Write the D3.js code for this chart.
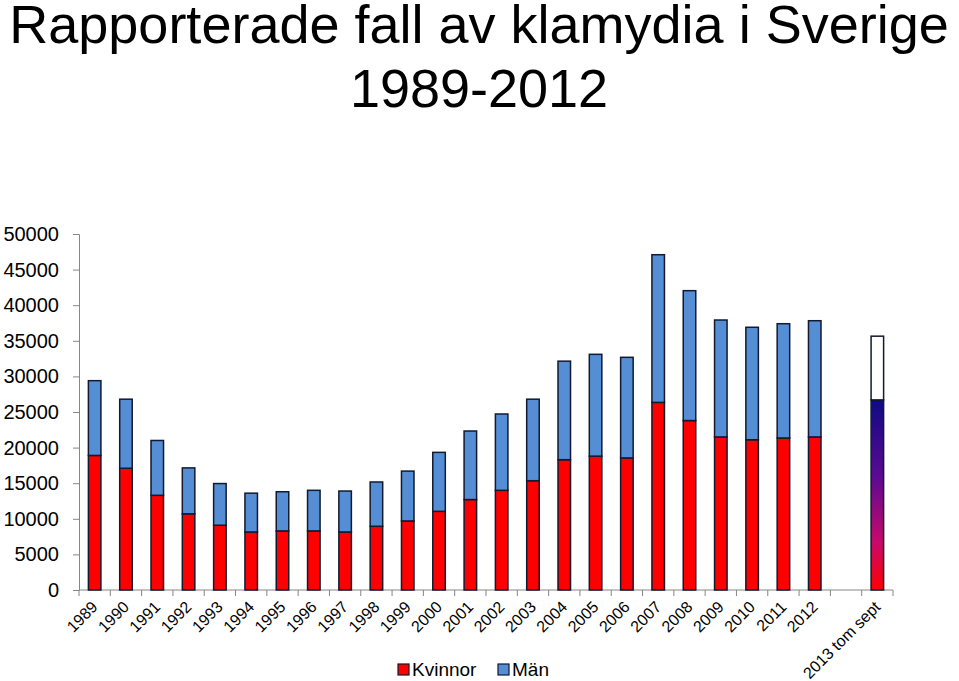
<!DOCTYPE html>
<html>
<head>
<meta charset="utf-8">
<title>Rapporterade fall av klamydia i Sverige</title>
<script src="https://cdn.jsdelivr.net/npm/d3@7"></script>
<style>
body { margin: 0; background: white; }
svg text { font-family: Arial, "Liberation Sans", sans-serif; fill: black; }
.bar { stroke: #111a2e; stroke-width: 1.5px; }
</style>
</head>
<body>
<svg width="959" height="681"></svg>
<script>
// categories on the x axis (one empty slot before 2013)
var categories = ["1989","1990","1991","1992","1993","1994","1995","1996","1997","1998",
  "1999","2000","2001","2002","2003","2004","2005","2006","2007","2008","2009","2010",
  "2011","2012"," ","2013 tom sept"];
var years = categories.slice(0, 24);

// reported cases, women and men
var kvinnor = [18900,17100,13300,10700,9100,8150,8300,8300,8150,8950,9700,11050,
  12700,14000,15350,18300,18800,18550,26350,23800,21500,21100,21350,21500];
var man = [10500,9700,7700,6450,5850,5450,5500,5700,5750,6220,7000,8280,
  9630,10720,11450,13840,14300,14130,20740,18240,16420,15800,16050,16320];

// 2013 up to september, plus the remaining part of the bar
var sept2013 = 26700;
var rest2013 = 8950;

var yTicks = [0,5000,10000,15000,20000,25000,30000,35000,40000,45000,50000];

var svg = d3.select("svg");

var x = d3.scaleBand().domain(categories).range([79, 893]);
var y = d3.scaleLinear().domain([0, 50000]).range([590, 234]);
var bw = x.bandwidth() * 0.4;

// gradient for the 2013 bar
var grad = svg.append("defs").append("linearGradient")
  .attr("id", "g2013").attr("x1", 0).attr("y1", 0).attr("x2", 0).attr("y2", 1);
grad.append("stop").attr("offset", "0%").attr("stop-color", "#100a84");
grad.append("stop").attr("offset", "40%").attr("stop-color", "#5a0a92");
grad.append("stop").attr("offset", "75%").attr("stop-color", "#c80a6a");
grad.append("stop").attr("offset", "100%").attr("stop-color", "#ff0000");

// title
svg.append("text").attr("x", 479).attr("y", 43).attr("text-anchor", "middle")
  .style("font-size", "54px").text("Rapporterade fall av klamydia i Sverige");
svg.append("text").attr("x", 479).attr("y", 107).attr("text-anchor", "middle")
  .style("font-size", "54px").text("1989-2012");

// y axis
var yAxis = svg.append("g").attr("transform", "translate(79,0)")
  .call(d3.axisLeft(y).tickValues(yTicks).tickSize(6).tickPadding(14).tickFormat(d3.format("d")));
yAxis.selectAll("path, line").attr("stroke", "#868686");
yAxis.selectAll("text").style("font-size", "20px").attr("fill", "black");

// x axis line and boundary ticks
svg.append("line").attr("x1", 79).attr("x2", 893).attr("y1", y(0)).attr("y2", y(0))
  .attr("stroke", "#868686");
svg.selectAll(".xtick").data(categories.concat(["end"])).enter().append("line")
  .attr("class", "xtick")
  .attr("x1", function(d){ return d == "end" ? 893 : x(d); })
  .attr("x2", function(d){ return d == "end" ? 893 : x(d); })
  .attr("y1", y(0)).attr("y2", y(0) + 6)
  .attr("stroke", "#868686");

// bars
svg.selectAll(".bar-k").data(years).enter().append("rect")
  .attr("class", "bar")
  .attr("x", function(d){ return x(d) + (x.bandwidth() - bw) / 2; })
  .attr("width", bw)
  .attr("y", function(d, i){ return y(kvinnor[i]); })
  .attr("height", function(d, i){ return y(0) - y(kvinnor[i]); })
  .attr("fill", "#ff0000");

svg.selectAll(".bar-m").data(years).enter().append("rect")
  .attr("class", "bar")
  .attr("x", function(d){ return x(d) + (x.bandwidth() - bw) / 2; })
  .attr("width", bw)
  .attr("y", function(d, i){ return y(kvinnor[i] + man[i]); })
  .attr("height", function(d, i){ return y(kvinnor[i]) - y(kvinnor[i] + man[i]); })
  .attr("fill", "#558ed5");

var c13 = "2013 tom sept";
svg.append("rect").attr("class", "bar")
  .attr("x", x(c13) + (x.bandwidth() - bw) / 2).attr("width", bw)
  .attr("y", y(sept2013)).attr("height", y(0) - y(sept2013))
  .attr("fill", "url(#g2013)");
svg.append("rect").attr("class", "bar")
  .attr("x", x(c13) + (x.bandwidth() - bw) / 2).attr("width", bw)
  .attr("y", y(sept2013 + rest2013)).attr("height", y(sept2013) - y(sept2013 + rest2013))
  .attr("fill", "white");

// x labels
svg.selectAll(".xlab").data(categories).enter().append("text")
  .attr("class", "xlab")
  .attr("text-anchor", "end")
  .style("font-size", "16px")
  .attr("transform", function(d){
    return "translate(" + (x(d) + x.bandwidth() / 2 + 4) + "," + (y(0) + 18) + ") rotate(-45)";
  })
  .text(function(d){ return d; });

// legend
var legend = [{name: "Kvinnor", color: "#ff0000", x: 398}, {name: "Män", color: "#558ed5", x: 498}];
var lg = svg.selectAll(".leg").data(legend).enter().append("g")
  .attr("transform", function(d){ return "translate(" + d.x + ",664)"; });
lg.append("rect").attr("width", 11).attr("height", 11)
  .attr("fill", function(d){ return d.color; })
  .attr("stroke", "#111a2e").attr("stroke-width", 1.2);
lg.append("text").attr("x", 14).attr("y", 12).style("font-size", "19px")
  .text(function(d){ return d.name; });
</script>
</body>
</html>
